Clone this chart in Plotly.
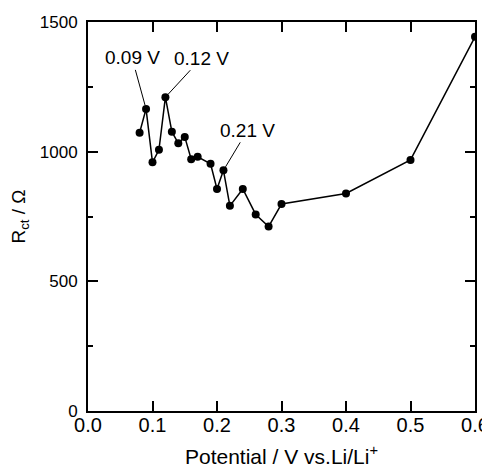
import plotly.graph_objects as go

potential = [0.08, 0.09, 0.10, 0.11, 0.12, 0.13, 0.14, 0.15, 0.16, 0.17, 0.19,
             0.20, 0.21, 0.22, 0.24, 0.26, 0.28, 0.30, 0.40, 0.50, 0.60]
rct = [1073, 1165, 959, 1007, 1210, 1077, 1032, 1057, 971, 980, 953,
       856, 928, 791, 856, 758, 711, 798, 839, 968, 1443]

x_ticks = [0.0, 0.1, 0.2, 0.3, 0.4, 0.5, 0.6]
x_ticklabels = ["0.0", "0.1", "0.2", "0.3", "0.4", "0.5", "0.6"]
y_ticks = [0, 500, 1000, 1500]

labels = ["0.09 V", "0.12 V", "0.21 V"]
label_potentials = [0.09, 0.12, 0.21]
label_offsets = [(-14, -51), (36, -39), (24, -40)]

FONT = "Liberation Sans, Arial, sans-serif"

fig = go.Figure()
fig.add_trace(go.Scatter(
    x=potential, y=rct, mode="lines+markers",
    line=dict(color="black", width=1.5),
    marker=dict(color="black", size=8),
    showlegend=False,
))

for lab, lp, (ax, ay) in zip(labels, label_potentials, label_offsets):
    yv = rct[potential.index(lp)]
    fig.add_annotation(
        x=lp, y=yv, text=lab, showarrow=True, arrowhead=0, arrowwidth=1,
        arrowcolor="black", ax=ax, ay=ay, standoff=4,
        font=dict(family=FONT, size=19, color="black"),
    )

fig.update_layout(
    template="none",
    width=482, height=466,
    margin=dict(l=80, r=15, t=14, b=63),
    paper_bgcolor="white", plot_bgcolor="white",
    font=dict(family=FONT, size=17, color="black"),
)
fig.update_xaxes(
    automargin=False,
    range=[0, 0.6], tickvals=x_ticks, ticktext=x_ticklabels,
    showgrid=False, zeroline=False, showline=True, linecolor="black",
    linewidth=2, mirror="allticks", ticks="inside", ticklen=10,
    tickwidth=1.5, tickcolor="black", tickfont=dict(size=20),
    ticklabelstandoff=-5,
    title=dict(text="Potential / V vs.Li/Li<sup>+</sup>",
               font=dict(size=21), standoff=14),
)
fig.update_yaxes(
    automargin=False,
    range=[0, 1500], tickvals=y_ticks,
    showgrid=False, zeroline=False, showline=True, linecolor="black",
    linewidth=2, mirror="allticks", ticks="inside", ticklen=10,
    tickwidth=1.5, tickcolor="black", tickfont=dict(size=17),
    ticklabelstandoff=5,
    minor=dict(ticks="inside", ticklen=5, dtick=250, tickcolor="black",
               tickwidth=1.5, showgrid=False),
    title=dict(text="R<sub>ct</sub> / Ω", font=dict(size=19), standoff=18),
)

fig.write_html("out.html")
